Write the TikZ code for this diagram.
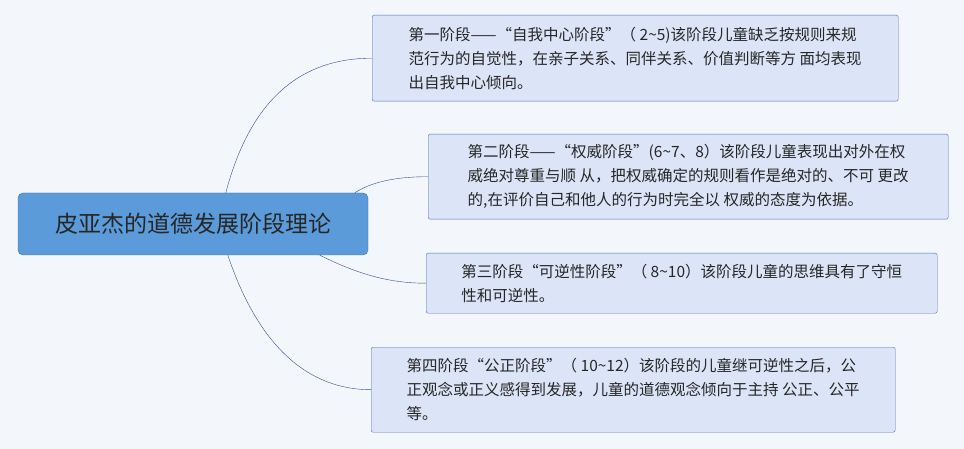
\documentclass[tikz,border=0pt]{standalone}
\usepackage{fontspec}
\setmainfont{Noto Sans CJK SC}
\definecolor{bgc}{HTML}{F3F6FB}
\definecolor{boxfill}{HTML}{DCE5F8}
\definecolor{boxline}{HTML}{4C6FB4}
\definecolor{rootfill}{HTML}{5B9BD9}
\definecolor{rootline}{HTML}{3C6DAE}
\definecolor{linkc}{HTML}{2F4F8A}
\tikzset{
  stagebox/.style={draw=boxline, fill=boxfill, rounded corners=2pt, anchor=north west,
    align=left, inner xsep=13pt, inner ysep=6pt, font=\fontsize{15.5}{24}\selectfont, text=black!85},
  rootbox/.style={draw=rootline, fill=rootfill, rounded corners=5pt, minimum width=350pt,
    minimum height=62pt, font=\fontsize{23}{26}\selectfont, text=black!85},
  link/.style={draw=linkc, thin}
}
\begin{document}
\begin{tikzpicture}[x=1pt,y=-1pt]
  \fill[bgc] (0,0) rectangle (964,449);
  \useasboundingbox (0,0) rectangle (964,449);
  \node[rootbox] (root) at (193,224) {皮亚杰的道德发展阶段理论};

  \node[stagebox, minimum width=526pt, minimum height=86pt] (s1) at (372,15) {第一阶段——“自我中心阶段”（ 2\textasciitilde5)该阶段儿童缺乏按规则来规\\范行为的自觉性，在亲子关系、同伴关系、价值判断等方 面均表现\\出自我中心倾向。};
  \node[stagebox, minimum width=520pt, minimum height=85pt] (s2) at (428,134) {第二阶段——“权威阶段”(6\textasciitilde7、8）该阶段儿童表现出对外在权\\威绝对尊重与顺 从，把权威确定的规则看作是绝对的、不可 更改\\的,在评价自己和他人的行为时完全以 权威的态度为依据。};
  \node[stagebox, minimum width=511pt, minimum height=60pt] (s3) at (426,253) {第三阶段“可逆性阶段”（ 8\textasciitilde10）该阶段儿童的思维具有了守恒\\性和可逆性。};
  \node[stagebox, minimum width=524pt, minimum height=85pt] (s4) at (371,347) {第四阶段“公正阶段”（ 10\textasciitilde12）该阶段的儿童继可逆性之后，公\\正观念或正义感得到发展，儿童的道德观念倾向于主持 公正、公平\\等。};

  \draw[link] ([xshift=208pt]root.north west) .. controls +(25,-95) and +(-70,0) .. (s1.west);
  \draw[link] ([xshift=337pt]root.north west) .. controls +(20,-13) and +(-25,0) .. (s2.west);
  \draw[link] ([xshift=302pt]root.south west) .. controls +(40,20) and +(-35,0) .. (s3.west);
  \draw[link] ([xshift=210pt]root.south west) .. controls +(32,95) and +(-60,0) .. (s4.west);
\end{tikzpicture}
\end{document}
